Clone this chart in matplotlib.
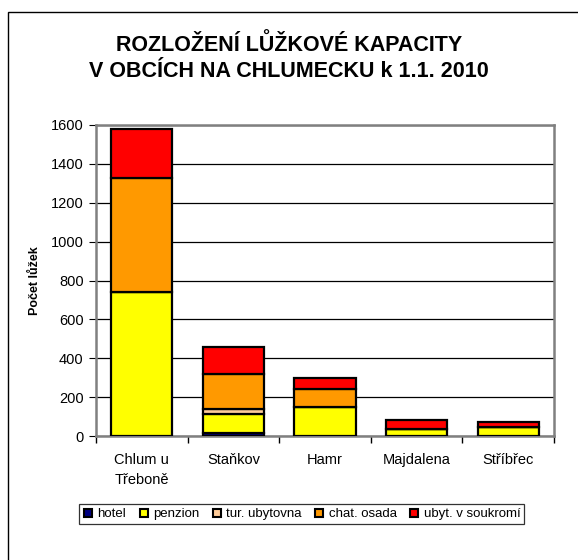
import matplotlib
matplotlib.use('Agg')
import matplotlib.pyplot as plt
from matplotlib.patches import Rectangle
from matplotlib.lines import Line2D
import numpy as np

plt.rcParams['font.family'] = ['Liberation Sans', 'DejaVu Sans']

# Data (beds per municipality and accommodation type)
obce = ['Chlum u\nTřeboně', 'Staňkov', 'Hamr', 'Majdalena', 'Stříbřec']
hotel = [0, 17, 0, 0, 0]
penzion = [740, 96, 150, 35, 45]
tur_ubytovna = [0, 27, 0, 0, 0]
chat_osada = [585, 179, 90, 0, 0]
ubyt_soukromi = [255, 140, 60, 47, 27]

series = [
    ('hotel', hotel, '#000080'),
    ('penzion', penzion, '#FFFF00'),
    ('tur. ubytovna', tur_ubytovna, '#FFCC99'),
    ('chat. osada', chat_osada, '#FF9900'),
    ('ubyt. v soukromí', ubyt_soukromi, '#FF0000'),
]

W, H = 578, 560
fig = plt.figure(figsize=(W / 100, H / 100), dpi=100)

# outer chart border (left/top visible, rest runs off the image)
fig.add_artist(Rectangle((8 / W, -0.05), 1.0, 1 - 12 / H + 0.05,
                         transform=fig.transFigure, fill=False,
                         ec='black', lw=1.0))

left, right, top, bottom = 96, 554, 125, 436
ax = fig.add_axes([left / W, 1 - bottom / H, (right - left) / W, (bottom - top) / H])

x = np.arange(len(obce))
base = np.zeros(len(obce))
for name, vals, col in series:
    vals = np.array(vals, dtype=float)
    ax.bar(x, vals, bottom=base, width=0.67, color=col, edgecolor='black',
           linewidth=1.6, zorder=3)
    base += vals

ax.set_xlim(-0.5, len(obce) - 0.5)
ax.set_ylim(0, 1600)
ax.set_yticks(range(0, 1601, 200))
ax.yaxis.grid(True, color='black', lw=0.9)
ax.set_axisbelow(True)

ax.set_xticks(x)
ax.set_xticklabels(obce, fontsize=10.5, linespacing=1.55)
ax.tick_params(axis='x', length=0, pad=12)
ax.set_xticks(np.arange(-0.5, len(obce)), minor=True)
ax.tick_params(axis='x', which='minor', length=5, direction='out', width=1)
ax.tick_params(axis='y', length=5, direction='out', labelsize=10.5, pad=4)

for s in ax.spines.values():
    s.set_color('#808080')
    s.set_linewidth(1.8)

ax.set_ylabel('Počet lůžek', fontsize=9, fontweight='bold', labelpad=7)

fig.text(289 / W, 1 - 58 / H,
         'ROZLOŽENÍ LŮŽKOVÉ KAPACITY\nV OBCÍCH NA CHLUMECKU k 1.1. 2010',
         ha='center', va='center', fontsize=15.5, fontweight='bold',
         linespacing=1.3)

handles = [Line2D([], [], marker='s', linestyle='none', markersize=6,
                  markerfacecolor=col, markeredgecolor='black', markeredgewidth=1.5)
           for _, _, col in series]
labels = [name for name, _, _ in series]
leg = fig.legend(handles, labels, loc='center', ncol=5,
                 bbox_to_anchor=((78 + 525) / 2 / W, 1 - 514 / H),
                 fontsize=9.5, frameon=True, fancybox=False, edgecolor='black',
                 handlelength=0.8, handletextpad=0.3, columnspacing=0.95,
                 borderpad=0.3, borderaxespad=0)
leg.get_frame().set_linewidth(0.9)

fig.savefig('out.png', dpi=100)
